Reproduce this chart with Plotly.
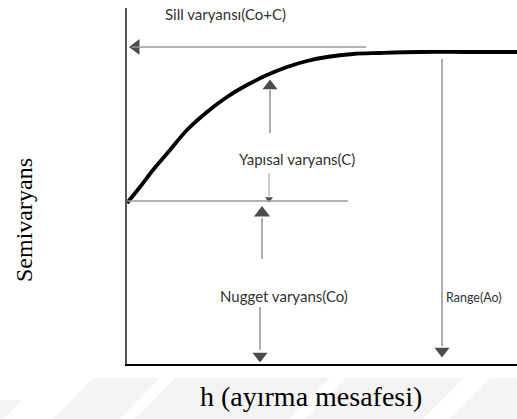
import plotly.graph_objects as go

# Variogram curve (h distance units, semivariance units)
h_vals = [0, 13, 26, 43, 60, 80, 100, 120, 140, 160, 180, 200, 226, 253, 293, 340, 390]
gamma_vals = [161, 177, 194, 214, 234, 252, 267, 279, 289, 297, 303, 307, 310, 311, 312, 312, 312]

nugget = 163
sill_arrow = 317
range_h = 315

labels = {
    "sill": "Sill varyansı(Co+C)",
    "yapisal": "Yapısal varyans(C)",
    "nugget": "Nugget varyans(Co)",
    "range": "Range(Ao)",
    "xtitle": "h (ayırma mesafesi)",
    "ytitle": "Semivaryans",
}

W, H = 517, 419
L, R, T, B = 127, 0, 8, 55
PW, PH = W - L - R, H - T - B

def px(x):
    return (x - L) / PW

def py(y):
    return (H - B - y) / PH

fig = go.Figure()

# faint watermark stripes in the lower band
stripes = [
    [(93, 378), (160, 378), (120, 419), (53, 419)],
    [(175, 378), (330, 378), (290, 419), (135, 419)],
    [(345, 378), (463, 378), (423, 419), (305, 419)],
    [(490, 378), (517, 378), (517, 419), (450, 419)],
    [(0, 400), (22, 400), (4, 419), (0, 419)],
]
shapes = []
for poly in stripes:
    path = "M " + " L ".join(f"{px(a):.4f},{py(b):.4f}" for a, b in poly) + " Z"
    shapes.append(dict(type="path", xref="paper", yref="paper", path=path,
                       fillcolor="#f4f4f4", line=dict(width=0), layer="below"))

gray = "#9a9a9a"
def vline(x, y0, y1, w=1.6, c=gray):
    shapes.append(dict(type="line", xref="x", yref="y", x0=x, x1=x, y0=y0, y1=y1,
                       line=dict(color=c, width=w)))
def hline(y, x0, x1, w=1.6, c=gray):
    shapes.append(dict(type="line", xref="x", yref="y", x0=x0, x1=x1, y0=y, y1=y,
                       line=dict(color=c, width=w)))

hline(sill_arrow, 5, 239)
vline(143, 231, 274)
vline(142, 168, 191, w=1.0)
hline(nugget, 0, 221)
vline(135, 105, 146)
vline(133, 14, 57)
vline(range_h, 18, 305)

fig.add_trace(go.Scatter(x=h_vals, y=gamma_vals, mode="lines",
                         line=dict(color="black", width=3.8, shape="spline"),
                         hoverinfo="skip", showlegend=False, cliponaxis=False))

heads_x = [9, 143, 142, 135, 133, range_h]
heads_y = [317, 278, 165, 151, 8, 13]
heads_sym = ["triangle-left", "triangle-up", "triangle-down", "triangle-up", "triangle-down", "triangle-down"]
heads_size = [14, 13, 7, 14, 13, 13]
fig.add_trace(go.Scatter(x=heads_x, y=heads_y, mode="markers",
                         marker=dict(symbol=heads_sym, size=heads_size, color="black",
                                     line=dict(width=0)),
                         hoverinfo="skip", showlegend=False, cliponaxis=False))

lab_font = dict(family="Lato, 'Open Sans', sans-serif", size=15, color="#333333")
annotations = [
    dict(x=98, y=py(14), yref="paper", xref="x", text=labels["sill"], showarrow=False,
         font=lab_font, xanchor="center", yanchor="middle"),
    dict(x=170, y=205, xref="x", yref="y", text=labels["yapisal"], showarrow=False,
         font=lab_font, xanchor="center", yanchor="middle"),
    dict(x=157, y=68, xref="x", yref="y", text=labels["nugget"], showarrow=False,
         font=lab_font, xanchor="center", yanchor="middle"),
    dict(x=317, y=67, xref="x", yref="y", text=labels["range"], showarrow=False,
         font=dict(family="Lato, 'Open Sans', sans-serif", size=12.5, color="#333333"),
         xanchor="left", yanchor="middle"),
    dict(x=px(311), y=py(396), xref="paper", yref="paper", text=labels["xtitle"],
         showarrow=False, font=dict(family="Liberation Serif, serif", size=28, color="black"),
         xanchor="center", yanchor="middle"),
    dict(x=px(24), y=py(220), xref="paper", yref="paper", text=labels["ytitle"],
         showarrow=False, textangle=-90,
         font=dict(family="Liberation Serif, serif", size=24, color="black"),
         xanchor="center", yanchor="middle"),
]

fig.update_layout(
    width=W, height=H,
    margin=dict(l=L, r=R, t=T, b=B, pad=0),
    paper_bgcolor="white", plot_bgcolor="white",
    shapes=shapes, annotations=annotations,
    xaxis=dict(range=[0, PW], showgrid=False, zeroline=False, showticklabels=False,
               ticks="", showline=True, linecolor="black", linewidth=1.5, fixedrange=True),
    yaxis=dict(range=[0, PH], showgrid=False, zeroline=False, showticklabels=False,
               ticks="", showline=True, linecolor="#555555", linewidth=1.5, fixedrange=True),
)

fig.write_html("out.html", config={"displayModeBar": False},
               post_script="document.body.style.margin='0';")
